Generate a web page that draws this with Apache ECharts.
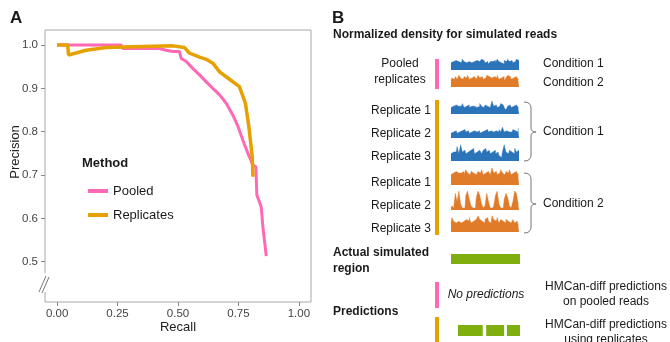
<!DOCTYPE html>
<html><head><meta charset="utf-8">
<script src="https://cdn.jsdelivr.net/npm/echarts@6/dist/echarts.min.js"></script>
<style>html,body{margin:0;padding:0;background:#fff}#c{width:670px;height:342px}</style>
</head><body><div id="c"></div>
<script>
// ---- Panel A data ----
const recallPooled = [0.0,0.265,0.272,0.423,0.451,0.479,0.506,0.513,0.534,0.561,0.589,0.617,0.644,0.672,0.700,0.727,0.748,0.768,0.789,0.810,0.822,0.826,0.844,0.851,0.865];
const precisionPooled = [1.0,1.0,0.992,0.992,0.988,0.985,0.985,0.969,0.962,0.946,0.931,0.915,0.900,0.885,0.865,0.838,0.812,0.781,0.750,0.723,0.719,0.654,0.627,0.581,0.513];
const recallRep = [0.0,0.044,0.047,0.12,0.203,0.313,0.479,0.527,0.548,0.589,0.617,0.644,0.672,0.713,0.754,0.779,0.793,0.807,0.810];
const precisionRep = [1.0,1.0,0.977,0.988,0.994,0.996,0.998,0.994,0.981,0.972,0.967,0.958,0.938,0.921,0.904,0.865,0.812,0.742,0.696];
const xTicks = [0,0.25,0.5,0.75,1.0];
const yTicks = [0.5,0.6,0.7,0.8,0.9,1.0];
const methods = ['Pooled','Replicates'];
const xTitle = 'Recall', yTitle = 'Precision';

// ---- Panel B data: density tracks (relative heights) ----
const trackPooledC1 = [6,7,6,8,7,7,6,9,7,6,7,8,6,7,7,8,7,6,9,8,6,7,5,7,7,8,6,9,7,6,5,8,7,9,7,8,6,7,9,8];
const trackPooledC2 = [5,7,6,8,6,9,7,6,8,7,9,6,7,8,7,6,9,7,8,6,7,9,8,7,6,8,7,9,6,7,8,5,7,9,8,6,7,8,7,6];
const trackC1R1 = [5,6,5,7,6,5,6,8,5,6,7,5,6,6,7,5,6,8,6,5,7,6,5,6,10,6,7,5,6,8,7,5,3,6,7,5,6,7,6,5];
const trackC1R2 = [4,5,5,6,4,5,6,5,7,5,6,4,5,6,7,5,6,4,5,6,5,7,5,6,5,4,6,5,7,5,9,5,6,5,6,5,7,6,5,8];
const trackC1R3 = [4,5,6,5,8,4,9,5,6,4,5,6,5,7,4,5,6,5,4,6,7,5,6,4,5,6,4,5,3,2,5,9,5,4,6,5,4,7,5,6];
const trackC2R1 = [6,7,6,8,7,6,7,8,6,9,7,6,8,7,6,7,8,7,9,6,7,8,7,6,10,7,8,6,7,9,7,6,8,7,9,6,7,8,7,6];
const trackC2R2 = [1,2,1,8,4,9,3,1,1,7,9,5,2,1,1,6,9,7,3,1,2,8,4,1,1,2,7,9,3,1,1,5,8,6,2,1,4,9,8,3];
const trackC2R3 = [5,8,6,5,6,7,5,6,5,7,6,8,5,6,7,6,9,7,6,5,7,8,6,5,9,7,6,8,5,7,6,5,7,6,5,6,7,5,6,4];
const actualRegion = [[0,100]];
const predictionsReplicates = [[10,46],[51,77],[81,100]];

const PINK = '#ff69b4', GOLD = '#e6a000', BLUE = '#2b74b9', ORANGE = '#e07b2a', GREEN = '#7eaf0e';
const FONT = '"Liberation Sans", Arial, sans-serif';

const chart = echarts.init(document.getElementById('c'), null, {renderer:'canvas'});

const tracks = [
  {d: trackPooledC1, c: BLUE, top: 58, h: 12},
  {d: trackPooledC2, c: ORANGE, top: 74, h: 13},
  {d: trackC1R1, c: BLUE, top: 101, h: 13},
  {d: trackC1R2, c: BLUE, top: 126, h: 12},
  {d: trackC1R3, c: BLUE, top: 143, h: 18},
  {d: trackC2R1, c: ORANGE, top: 168, h: 17},
  {d: trackC2R2, c: ORANGE, top: 189, h: 21},
  {d: trackC2R3, c: ORANGE, top: 214, h: 18}
];

const grids = [{left:45, top:30, width:266, height:272, show:true, borderColor:'#a8a8a8', borderWidth:1, backgroundColor:'#fff'}];
const xAxes = [{
  gridIndex:0, type:'value', min:-0.05, max:1.05,
  axisLine:{show:false, onZero:false}, splitLine:{show:false},
  axisTick:{show:true, inside:false, length:4, lineStyle:{color:'#888'}, customValues:xTicks},
  axisLabel:{fontFamily:FONT, fontSize:11.5, color:'#444', margin:6, customValues:xTicks, formatter:v=>v.toFixed(2)}
}];
const yAxes = [{
  gridIndex:0, type:'value', min:0.407, max:1.0346,
  axisLine:{show:false, onZero:false}, splitLine:{show:false},
  axisTick:{show:true, inside:false, length:4, lineStyle:{color:'#888'}, customValues:yTicks},
  axisLabel:{fontFamily:FONT, fontSize:11.5, color:'#444', margin:7, customValues:yTicks, formatter:v=>v.toFixed(1)}
}];
const series = [
  {name:methods[0], type:'line', xAxisIndex:0, yAxisIndex:0, data:recallPooled.map((r,i)=>[r,precisionPooled[i]]),
   showSymbol:false, symbol:'none', lineStyle:{color:PINK, width:3}, itemStyle:{color:PINK}, z:2, animation:false},
  {name:methods[1], type:'line', xAxisIndex:0, yAxisIndex:0, data:recallRep.map((r,i)=>[r,precisionRep[i]]),
   showSymbol:false, symbol:'none', lineStyle:{color:GOLD, width:3.5}, itemStyle:{color:GOLD}, z:3, animation:false}
];

tracks.forEach((t,i)=>{
  const gi = grids.length;
  grids.push({left:451, top:t.top, width:68, height:t.h});
  xAxes.push({gridIndex:gi, type:'category', data:t.d.map((_,k)=>k), show:false, boundaryGap:false});
  yAxes.push({gridIndex:gi, type:'value', min:0, max:10, show:false});
  series.push({type:'line', xAxisIndex:gi, yAxisIndex:gi, data:t.d, step:'middle', symbol:'none', showSymbol:false,
    lineStyle:{color:t.c, width:0.6, opacity:0.7}, areaStyle:{color:t.c, opacity:1}, animation:false, silent:true});
});

function regionSeries(gi, data){
  return {type:'custom', xAxisIndex:gi, yAxisIndex:gi, data:data, animation:false, silent:true,
    renderItem:(params, api)=>{
      const s = api.coord([api.value(0), 0]);
      const e = api.coord([api.value(1), 0]);
      const cs = params.coordSys;
      return {type:'rect', shape:{x:s[0], y:cs.y, width:e[0]-s[0], height:cs.height}, style:{fill:GREEN}};
    }};
}
[[254,10,actualRegion],[325,11,predictionsReplicates]].forEach(([top,h,d])=>{
  const gi = grids.length;
  grids.push({left:451, top:top, width:69, height:h});
  xAxes.push({gridIndex:gi, type:'value', min:0, max:100, show:false});
  yAxes.push({gridIndex:gi, type:'value', min:0, max:1, show:false});
  series.push(regionSeries(gi, d));
});

function txt(text, x, y, opt){
  opt = opt || {};
  return {type:'text', z:100, style:{text:text, x:x, y:y, fill:opt.fill||'#1a1a1a',
    font:(opt.style||'normal')+' '+(opt.weight||'normal')+' '+(opt.size||12)+'px '+FONT,
    align:opt.align||'left', verticalAlign:'middle'}};
}
function rect(x,y,w,h,c){ return {type:'rect', z:100, shape:{x:x,y:y,width:w,height:h}, style:{fill:c}}; }
function ln(x1,y1,x2,y2){ return {type:'line', z:100, shape:{x1:x1,y1:y1,x2:x2,y2:y2}, style:{stroke:'#777', lineWidth:1}}; }
function qc(x1,y1,cx,cy,x2,y2){ return {type:'bezierCurve', z:100, shape:{x1:x1,y1:y1,cpx1:cx,cpy1:cy,x2:x2,y2:y2}, style:{stroke:'#777', fill:null, lineWidth:1}}; }
function brace(x0, y0, ym, y1){
  const xb = x0 + 7, xt = x0 + 12;
  return [
    qc(x0,y0, xb,y0, xb,y0+6), ln(xb,y0+6, xb,ym-4),
    qc(xb,ym-4, xb,ym, xt,ym), qc(xt,ym, xb,ym, xb,ym+4),
    ln(xb,ym+4, xb,y1-6), qc(xb,y1-6, xb,y1, x0,y1)
  ];
}

const graphics = [
  txt('A', 10, 18, {weight:'bold', size:17}),
  txt('B', 332, 18, {weight:'bold', size:17}),
  txt(xTitle, 178, 327, {align:'center', size:13, fill:'#222'}),
  {type:'text', z:100, x:15, y:152, rotation:Math.PI/2,
   style:{text:yTitle, x:0, y:0, fill:'#222', font:'normal normal 13px '+FONT, align:'center', verticalAlign:'middle'}},
  txt('Method', 82, 163, {weight:'bold', size:13}),
  rect(43, 273, 5, 19, '#fff'),
  {type:'line', z:101, shape:{x1:39, y1:292, x2:46, y2:276}, style:{stroke:'#777', lineWidth:1}},
  {type:'line', z:101, shape:{x1:42, y1:293, x2:49, y2:277}, style:{stroke:'#777', lineWidth:1}},
  txt('Normalized density for simulated reads', 333, 35, {weight:'bold'}),
  txt('Pooled', 400, 64, {align:'center'}),
  txt('replicates', 400, 80, {align:'center'}),
  txt('Replicate 1', 431, 111, {align:'right'}),
  txt('Replicate 2', 431, 134, {align:'right'}),
  txt('Replicate 3', 431, 157, {align:'right'}),
  txt('Replicate 1', 431, 183, {align:'right'}),
  txt('Replicate 2', 431, 206, {align:'right'}),
  txt('Replicate 3', 431, 229, {align:'right'}),
  txt('Condition 1', 543, 64),
  txt('Condition 2', 543, 83),
  txt('Condition 1', 543, 132),
  txt('Condition 2', 543, 204),
  rect(435, 59, 4, 30, PINK),
  rect(435, 100, 4, 135, GOLD),
  rect(435, 282, 4, 26, PINK),
  rect(435, 317, 4, 25, GOLD),
  ...brace(524, 102, 132, 161),
  ...brace(524, 173, 204, 233),
  txt('Actual simulated', 333, 253, {weight:'bold'}),
  txt('region', 333, 269, {weight:'bold'}),
  txt('No predictions', 486, 295, {align:'center', style:'italic'}),
  txt('Predictions', 333, 312, {weight:'bold'}),
  txt('HMCan-diff predictions', 606, 287, {align:'center'}),
  txt('on pooled reads', 606, 302, {align:'center'}),
  txt('HMCan-diff predictions', 606, 325, {align:'center'}),
  txt('using replicates', 606, 340, {align:'center'})
];

chart.setOption({
  animation:false,
  backgroundColor:'#fff',
  grid:grids, xAxis:xAxes, yAxis:yAxes, series:series,
  legend:{data:methods, orient:'vertical', left:83, top:179, itemWidth:20, itemHeight:4, itemGap:10, icon:'rect',
    textStyle:{fontFamily:FONT, fontSize:13, color:'#1a1a1a', lineHeight:14}},
  graphic:graphics
});
</script></body></html>
